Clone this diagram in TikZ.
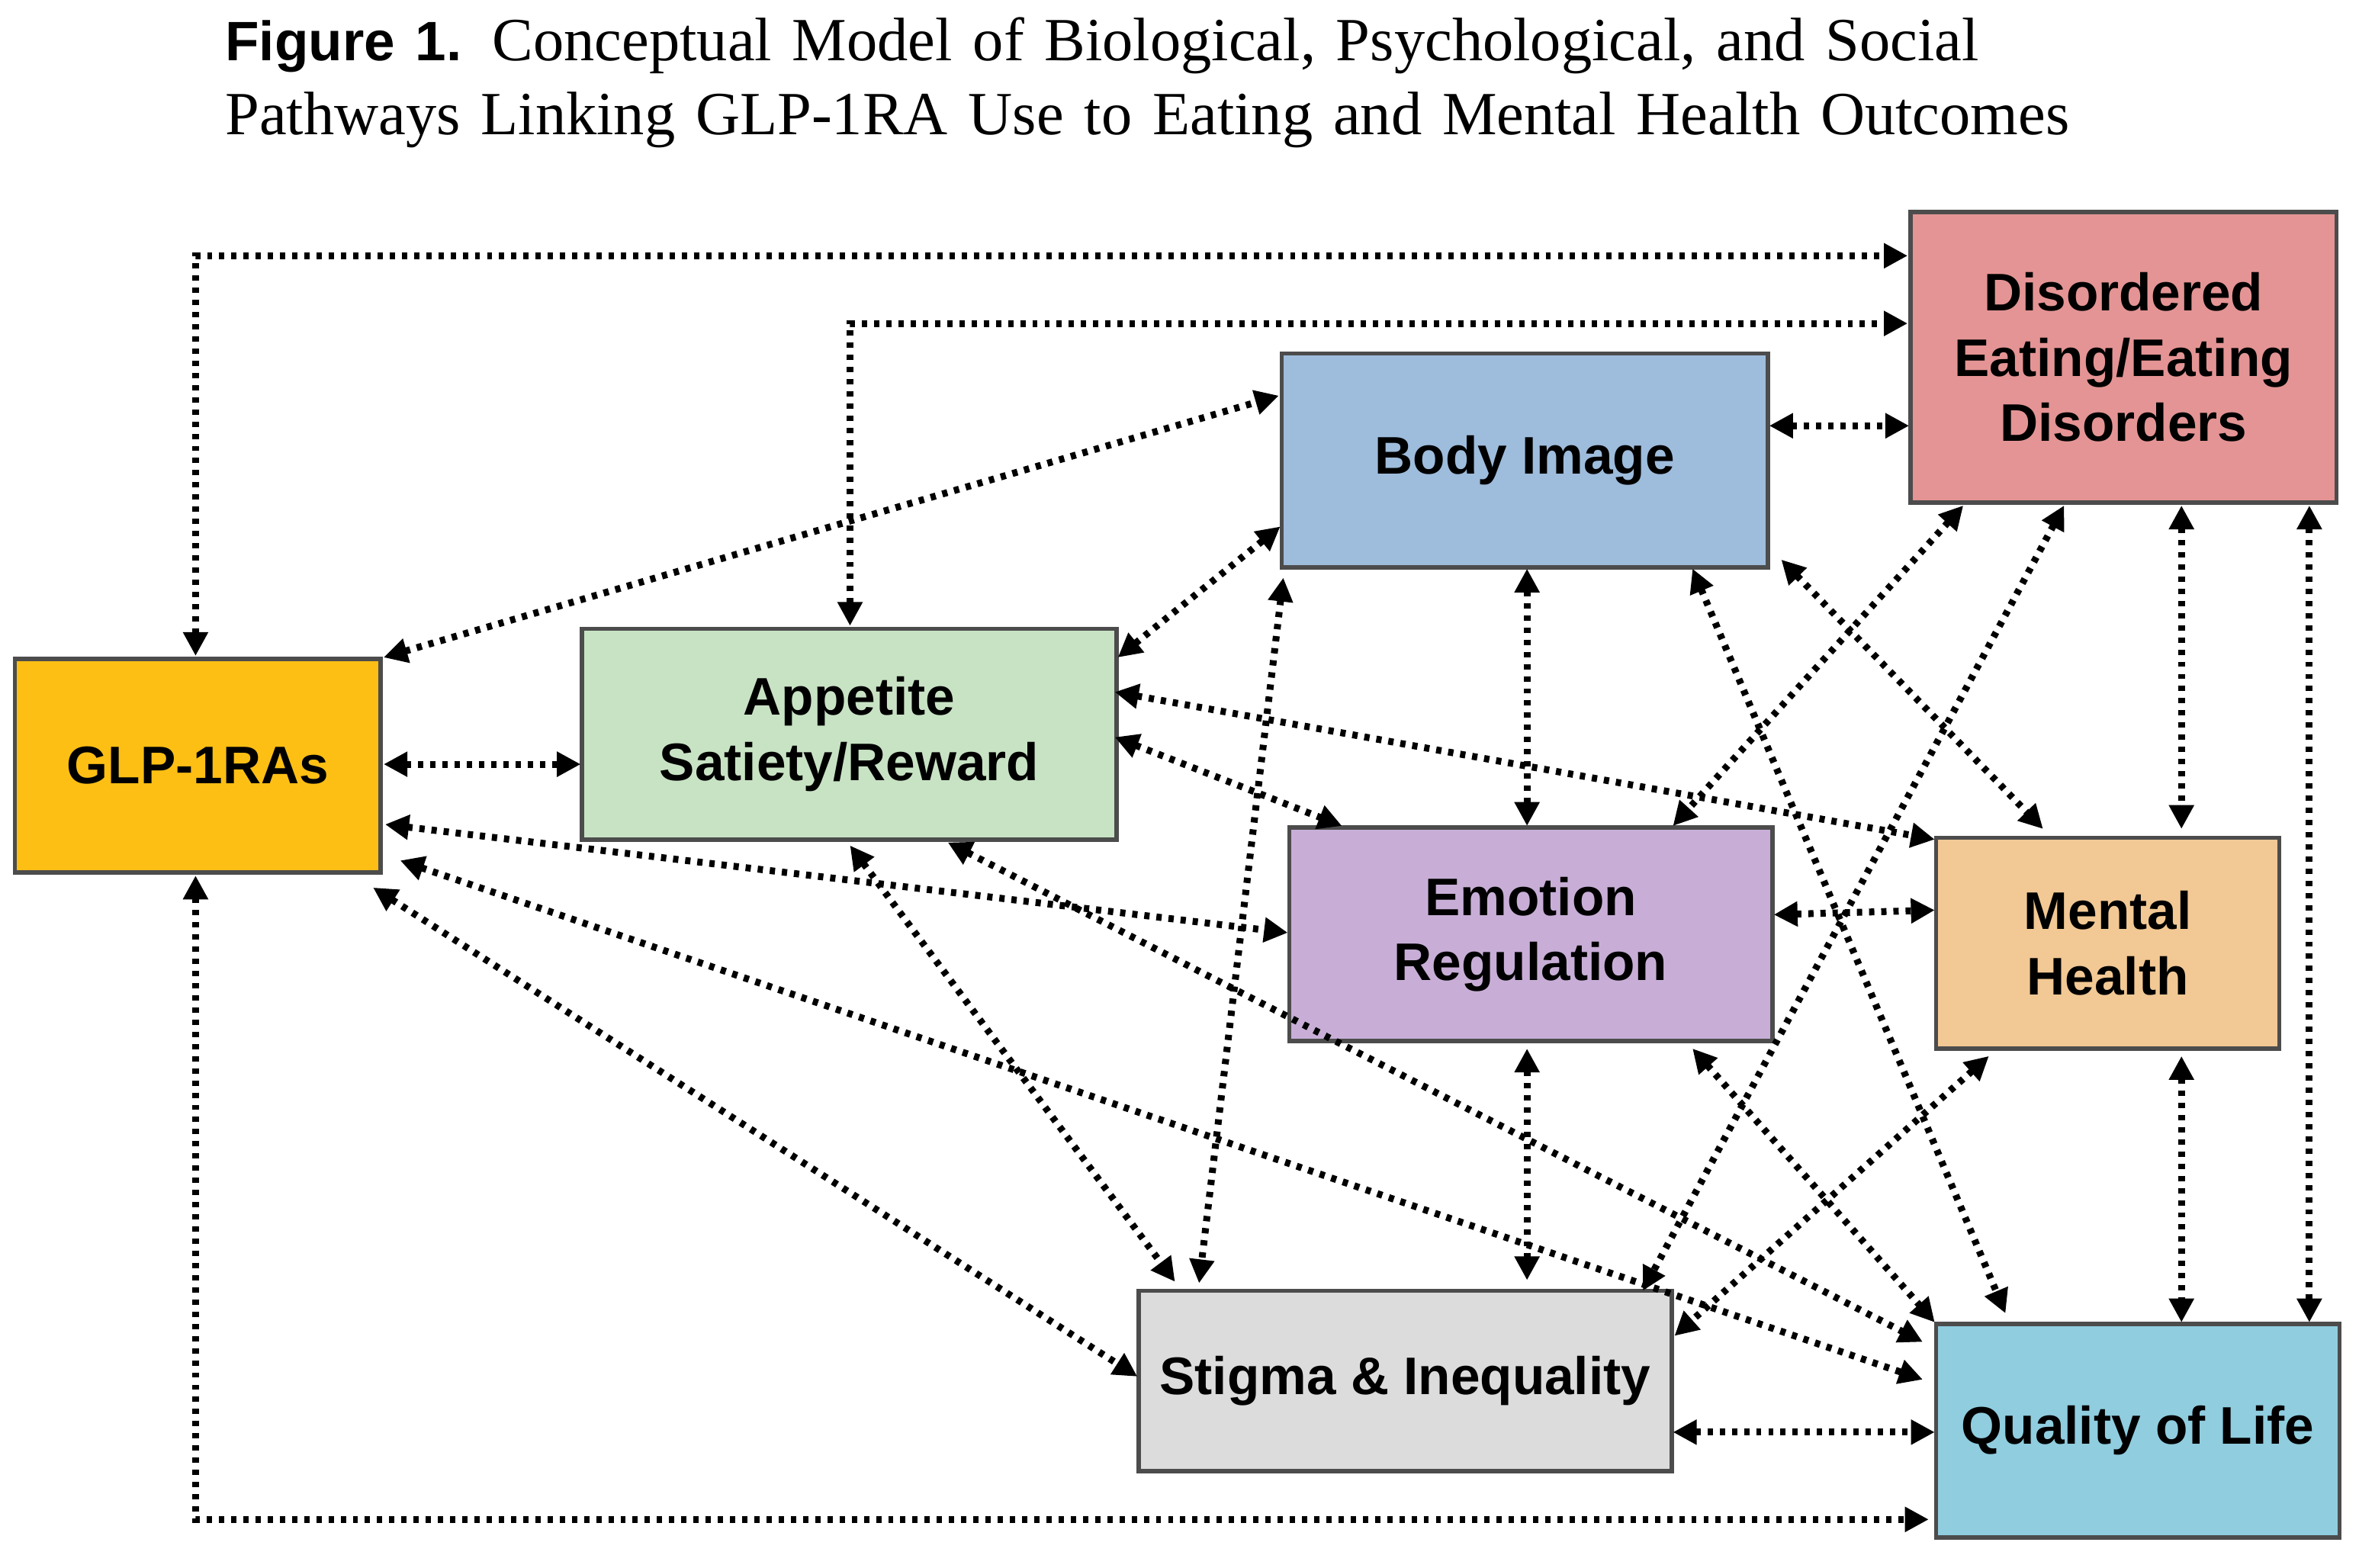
\documentclass[tikz,border=0pt]{standalone}
\usepackage{fontspec}
\setmainfont{Liberation Serif}
\newfontfamily\boxfont{Liberation Sans}
\usetikzlibrary{arrows.meta}
\definecolor{cglp}{HTML}{FDBF14}
\definecolor{capp}{HTML}{C8E3C4}
\definecolor{cbody}{HTML}{9EBCDC}
\definecolor{cdis}{HTML}{E49494}
\definecolor{cemo}{HTML}{C8AED7}
\definecolor{cmen}{HTML}{F2C894}
\definecolor{csti}{HTML}{DCDCDC}
\definecolor{cqol}{HTML}{8FCDDF}
\begin{document}
\begin{tikzpicture}[x=0.01cm,y=-0.01cm,
 bx/.style={draw=black!70,line width=0.8pt,font=\boxfont\bfseries\fontsize{10}{12.3}\selectfont,align=center,inner sep=0pt},
 lk/.style={line width=1.3pt,dash pattern=on 1pt off 1.3pt,{Triangle[width=4.5pt,length=4.5pt]}-{Triangle[width=4.5pt,length=4.5pt]}}]
\useasboundingbox (0,0) rectangle (1568,1042);
\node[anchor=west,font=\fontsize{11.6}{14}\selectfont,align=left,text width=13.5cm,inner sep=0pt] (title) at (149,55)
 {{\boxfont\bfseries\fontsize{10.5}{14}\selectfont Figure 1.} Conceptual Model of Biological, Psychological, and Social\\Pathways Linking GLP-1RA Use to Eating and Mental Health Outcomes};
\node[bx,fill=cglp,minimum width=2.43cm,minimum height=1.42cm] (glp) at (131.5,509) {GLP-1RAs};
\node[bx,fill=capp,minimum width=3.55cm,minimum height=1.40cm] (app) at (564.5,488) {Appetite\\Satiety/Reward};
\node[bx,fill=cbody,minimum width=3.23cm,minimum height=1.42cm] (body) at (1013.5,306) {Body Image};
\node[bx,fill=cdis,minimum width=2.83cm,minimum height=1.93cm] (dis) at (1411.5,237.5) {Disordered\\Eating/Eating\\Disorders};
\node[bx,fill=cemo,minimum width=3.21cm,minimum height=1.42cm] (emo) at (1017.5,621) {Emotion\\Regulation};
\node[bx,fill=cmen,minimum width=2.28cm,minimum height=1.40cm] (men) at (1401,627) {Mental\\Health};
\node[bx,fill=csti,minimum width=3.54cm,minimum height=1.20cm] (sti) at (934,918) {Stigma \& Inequality};
\node[bx,fill=cqol,minimum width=2.68cm,minimum height=1.42cm] (qol) at (1421,951) {Quality of Life};
% connectors
\draw[lk] (130,436) |- (1268,170);
\draw[lk] (565,416) |- (1268,215);
\draw[lk] (255,437) -- (850,263);
\draw[lk] (255,508) -- (386,508);
\draw[lk] (743,437) -- (851,350);
\draw[lk] (1176,283) -- (1269,283);
\draw[lk] (1015,378) -- (1015,549);
\draw[lk] (741,460) -- (1286,558);
\draw[lk] (741,490) -- (892,549);
\draw[lk] (256,548) -- (856,620);
\draw[lk] (266,572) -- (1278,917);
\draw[lk] (248,590) -- (756,915);
\draw[lk] (565,562) -- (781,852);
\draw[lk] (630,560) -- (1278,892);
\draw[lk] (853,384) -- (797,853);
\draw[lk] (1125,378) -- (1333,873);
\draw[lk] (1184,372) -- (1358,551);
\draw[lk] (1305,336) -- (1112,549);
\draw[lk] (1372,336) -- (1092,858);
\draw[lk] (1450,336) -- (1450,551);
\draw[lk] (1535,336) -- (1535,879);
\draw[lk] (1179,608) -- (1286,605);
\draw[lk] (1015,697) -- (1015,851);
\draw[lk] (1125,697) -- (1286,879);
\draw[lk] (1322,702) -- (1113,888);
\draw[lk] (1450,702) -- (1450,879);
\draw[lk] (1112,952) -- (1286,952);
\draw[lk] (130,582) |- (1282,1010);
\end{tikzpicture}
\end{document}
